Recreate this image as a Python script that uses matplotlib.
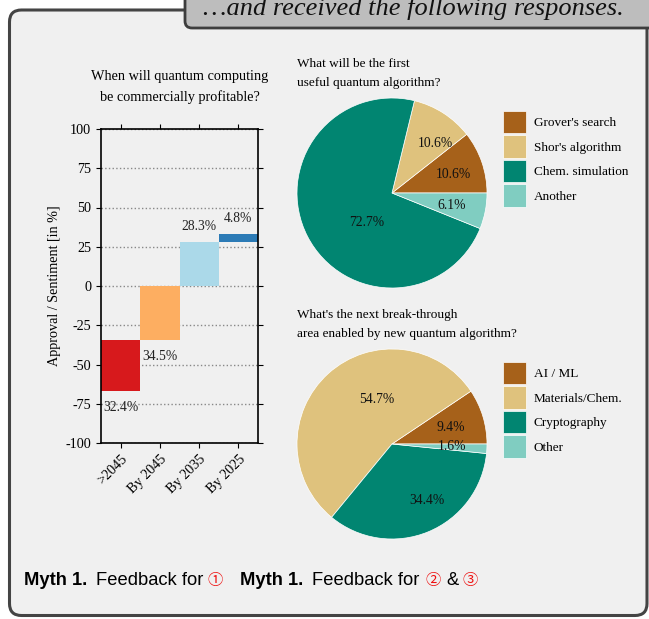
import numpy as np
import matplotlib
matplotlib.use("Agg")
import matplotlib.pyplot as plt
from matplotlib.patches import FancyBboxPatch

plt.rcParams["axes.unicode_minus"] = False
SERIF = ["Liberation Serif", "DejaVu Serif"]
SANS = ["Liberation Sans", "DejaVu Sans"]
CIRC = ["Noto Sans CJK JP", "DejaVu Sans"]

W, H = 649, 619

# bar chart: when will QC be commercially profitable
bar_cats = [">2045", "By 2045", "By 2035", "By 2025"]
bar_shares = [32.4, 34.5, 28.3, 4.8]
bar_signs = [-1, -1, 1, 1]
bar_colors = ["#d7191c", "#fdae61", "#abd9e9", "#2c7bb6"]

# pie 1: first useful quantum algorithm
algo_labels = ["Grover's search", "Shor's algorithm", "Chem. simulation", "Another"]
algo_values = [10.6, 10.6, 72.7, 6.1]

# pie 2: next break-through area
area_labels = ["AI / ML", "Materials/Chem.", "Cryptography", "Other"]
area_values = [9.4, 54.7, 34.4, 1.6]

pie_colors = ["#a6611a", "#dfc27d", "#018571", "#80cdc1"]

# nudges of the percentage labels (pie radius units)
algo_nudge = [(0.08, 0.0), (0.13, 0.02), (0.27, -0.04), (0.04, -0.02)]
area_nudge = [(0.04, 0.0), (0.24, 0.02), (0.14, -0.04), (0.03, 0.0)]


def fx(x):
    return x / W


def fy(y):
    return 1 - y / H


fig = plt.figure(figsize=(W / 100, H / 100), dpi=100)
fig.patch.set_facecolor("white")

# frame and header tab
bg = fig.add_axes([0, 0, 1, 1])
bg.set_xlim(0, W)
bg.set_ylim(H, 0)
bg.axis("off")
bg.add_patch(FancyBboxPatch((9.5, 10), 637.5, 605.5,
                            boxstyle="round,pad=0,rounding_size=12",
                            fc="#f0f0f0", ec="#444444", lw=2.2))
bg.add_patch(FancyBboxPatch((185, -20), 480, 48,
                            boxstyle="round,pad=0,rounding_size=7",
                            fc="#bdbdbd", ec="#3d3d3d", lw=2.0))
bg.text(203, 15, "\u2026and received the following responses.", family=SERIF,
        style="italic", fontsize=19, va="baseline", ha="left", color="#111111")

# ---- bar chart ----
ax = fig.add_axes([fx(101), fy(443), fx(258) - fx(101), fy(129) - fy(443)])
ax.set_facecolor("none")
x = np.arange(len(bar_cats))
lows = [0.0] * len(bar_shares)
highs = [0.0] * len(bar_shares)
level = 0.0
for i in reversed(range(len(bar_shares))):
    if bar_signs[i] < 0:
        highs[i] = level
        lows[i] = level - bar_shares[i]
        level = lows[i]
level = 0.0
for i in range(len(bar_shares)):
    if bar_signs[i] > 0:
        lows[i] = level
        highs[i] = level + bar_shares[i]
        level = highs[i]
heights = [h - l for h, l in zip(highs, lows)]
ax.bar(x, heights, bottom=lows, width=1.0, color=bar_colors, zorder=2)
for i in range(len(bar_shares)):
    if bar_signs[i] < 0:
        ax.annotate(f"{bar_shares[i]:.1f}%", (x[i], lows[i]), xytext=(0, -11.5),
                    textcoords="offset points", ha="center", va="center",
                    family=SERIF, fontsize=9.8, color="#222222")
    else:
        ax.annotate(f"{bar_shares[i]:.1f}%", (x[i], highs[i]), xytext=(0, 11),
                    textcoords="offset points", ha="center", va="center",
                    family=SERIF, fontsize=9.8, color="#222222")
ax.set_xlim(-0.5, len(bar_cats) - 0.5)
ax.set_ylim(-100, 100)
ax.set_yticks(np.arange(-100, 101, 25))
ax.set_xticks(x)
ax.set_xticklabels(bar_cats, rotation=45, ha="right", rotation_mode="anchor",
                   family=SERIF, fontsize=10.2)
for lab in ax.get_yticklabels():
    lab.set_family(SERIF)
    lab.set_fontsize(10.2)
ax.tick_params(top=True, right=True, direction="out", length=3.5, width=0.8)
ax.yaxis.grid(True, linestyle=":", color="#888888", lw=1.0, zorder=0)
for s in ax.spines.values():
    s.set_linewidth(1.2)
ax.set_ylabel("Approval / Sentiment [in %]", family=SERIF, fontsize=10.2, labelpad=3)
fig.text(fx(180), fy(87), "When will quantum computing\nbe commercially profitable?",
         ha="center", va="center", multialignment="center", linespacing=1.6,
         family=SERIF, fontsize=10.3)


# ---- pies ----
def draw_pie(cx, cy, values, labels, nudge, title, title_y, leg_top):
    r = 95
    pax = fig.add_axes([fx(cx - r), fy(cy + r), fx(2 * r), 2 * r / H])
    vals = iter(values)
    wedges, _, pcts = pax.pie(values, colors=pie_colors, startangle=0,
                              counterclock=True,
                              autopct=lambda p: f"{next(vals):.1f}%",
                              pctdistance=0.6, radius=1,
                              wedgeprops=dict(edgecolor="white", linewidth=0.5),
                              textprops=dict(family=SERIF, fontsize=9.8,
                                             color="#111111"))
    for t, (dx, dy) in zip(pcts, nudge):
        px, py = t.get_position()
        t.set_position((px + dx, py + dy))
    pax.set_xlim(-1, 1)
    pax.set_ylim(-1, 1)
    fig.text(fx(cx - r), fy(title_y), title, ha="left", va="baseline",
             linespacing=1.75, family=SERIF, fontsize=9.5)
    fs = 9.5
    fpx = fs * 100 / 72
    fig.legend(wedges, labels, loc="upper left",
               bbox_to_anchor=(fx(503), fy(leg_top)), frameon=False,
               borderpad=0, borderaxespad=0, handlelength=23 / fpx,
               handleheight=2.246, handletextpad=8 / fpx,
               labelspacing=2 / fpx, prop=dict(family=SERIF, size=fs))


draw_pie(392, 193, algo_values, algo_labels, algo_nudge,
         "What will be the first\nuseful quantum algorithm?", 86, 111)
draw_pie(392, 444, area_values, area_labels, area_nudge,
         "What's the next break-through\narea enabled by new quantum algorithm?", 337, 362)

# ---- captions ----
cap_y = 585
fs_cap = 13.2
red = "#ee1111"
fig.text(fx(24), fy(cap_y), "Myth 1.", family=SANS, weight="bold", fontsize=fs_cap, va="baseline")
fig.text(fx(96), fy(cap_y), "Feedback for", family=SANS, fontsize=fs_cap, va="baseline")
fig.text(fx(207), fy(cap_y), "\u2460", family=CIRC, fontsize=11, color=red, va="baseline")
fig.text(fx(240), fy(cap_y), "Myth 1.", family=SANS, weight="bold", fontsize=fs_cap, va="baseline")
fig.text(fx(312), fy(cap_y), "Feedback for", family=SANS, fontsize=fs_cap, va="baseline")
fig.text(fx(425), fy(cap_y), "\u2461", family=CIRC, fontsize=11, color=red, va="baseline")
fig.text(fx(446), fy(cap_y), "&", family=SANS, fontsize=fs_cap, va="baseline")
fig.text(fx(462), fy(cap_y), "\u2462", family=CIRC, fontsize=11, color=red, va="baseline")

fig.savefig("out.png", dpi=100, facecolor="white")
